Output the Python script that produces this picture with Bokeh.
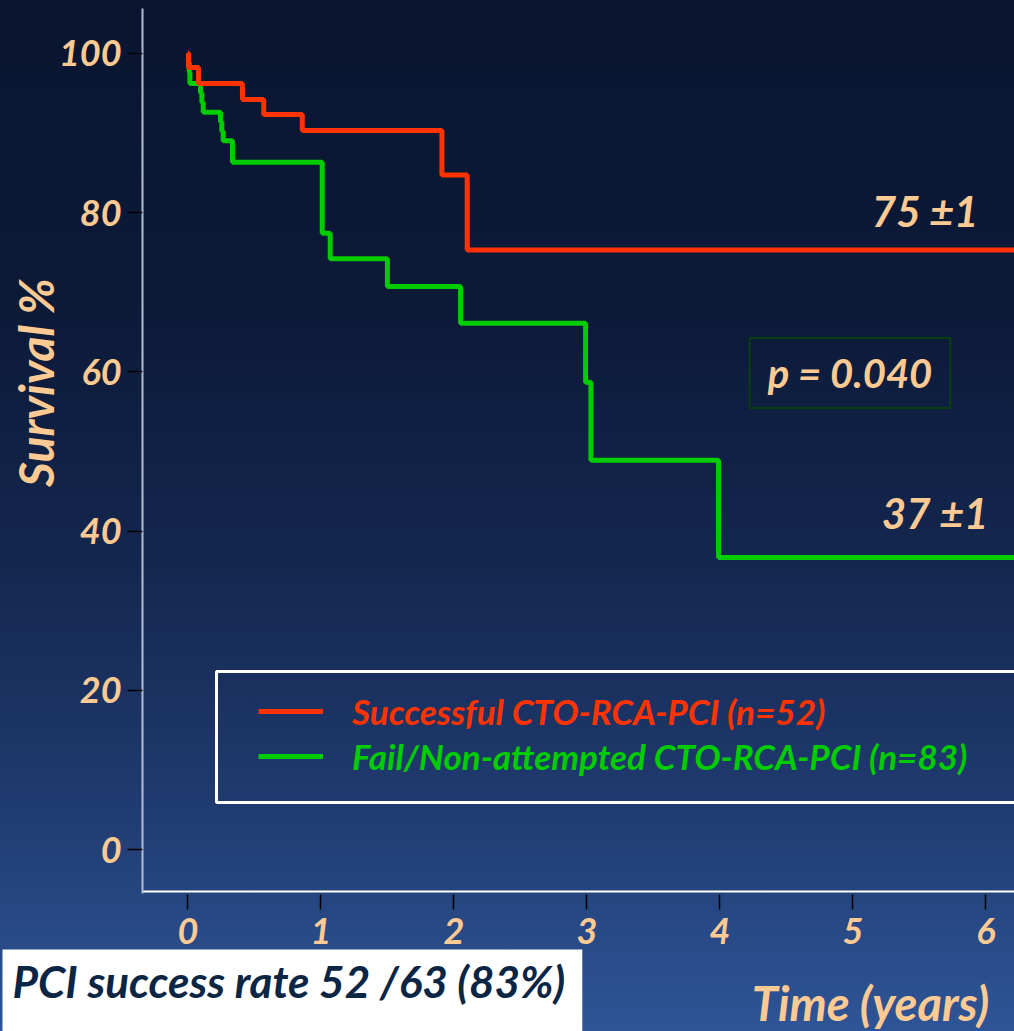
import math
from bokeh.plotting import figure
from bokeh.models import Range1d, FixedTicker, Legend, LegendItem, Label, BoxAnnotation
from bokeh.embed import file_html
from bokeh.resources import INLINE

# ---- data ----
succ_time = [0, 0.005, 0.08, 0.41, 0.57, 0.86, 1.91, 2.10, 6.5]
succ_surv = [100, 98.2, 96.2, 94.2, 92.3, 90.3, 84.7, 75.3, 75.3]

fail_time = [0, 0.005, 0.01, 0.015, 0.095, 0.105, 0.115, 0.245, 0.255, 0.265,
             0.335, 1.01, 1.07, 1.50, 2.05, 2.99, 3.03, 3.99, 6.5]
fail_surv = [100, 98.8, 97.6, 96.2, 95.0, 93.8, 92.6, 91.4, 90.2, 89.0,
             86.3, 77.4, 74.2, 70.7, 66.1, 58.7, 48.9, 36.7, 36.7]

x_ticks = [0, 1, 2, 3, 4, 5, 6]
y_ticks = [0, 20, 40, 60, 80, 100]

succ_label = "Successful CTO-RCA-PCI (n=52)"
fail_label = "Fail/Non-attempted CTO-RCA-PCI (n=83)"
succ_end_text = "75 \u00b11"
fail_end_text = "37 \u00b11"
p_text = "p = 0.040"
rate_text = "PCI success rate 52 /63 (83%)"
x_title = "Time (years)"
y_title = "Survival %"

PEACH = "#fcca92"
RED = "#ff3300"
GREEN = "#00cc00"
FONT = "Lato"

# the frame fills the whole canvas; axes sit at fixed data locations
p = figure(width=1014, height=1031, output_backend="svg", toolbar_location=None,
           x_range=Range1d(-1.409, 6.215), y_range=Range1d(-22.83, 106.62),
           min_border_left=0, min_border_right=0, min_border_top=0,
           min_border_bottom=0)
p.background_fill_alpha = 0
p.border_fill_alpha = 0
p.outline_line_color = None
p.grid.visible = False
p.styles = {"background": "linear-gradient(to bottom, #0a1630 0%, #0c1a38 30%, #14274f 55%, #203b70 78%, #2e5597 100%)"}

xa = p.xaxis[0]
xa.fixed_location = -5.25
xa.bounds = (-0.341, 6.3)
xa.ticker = FixedTicker(ticks=x_ticks)
xa.axis_line_color = "white"
xa.axis_line_width = 2
xa.major_tick_line_color = "black"
xa.major_tick_line_width = 1.5
xa.major_tick_in = -3
xa.major_tick_out = 18
xa.minor_tick_line_color = None
xa.major_label_text_font = FONT
xa.major_label_text_font_style = "bold italic"
xa.major_label_text_font_size = "36px"
xa.major_label_text_color = PEACH
xa.major_label_standoff = 9

ya = p.yaxis[0]
ya.fixed_location = -0.341
ya.bounds = (-5.5, 105.6)
ya.ticker = FixedTicker(ticks=y_ticks)
ya.axis_line_color = "#b4bed2"
ya.axis_line_width = 2
ya.major_tick_line_color = "black"
ya.major_tick_line_width = 1.5
ya.major_tick_in = 0
ya.major_tick_out = 15
ya.minor_tick_line_color = None
ya.major_label_text_font = FONT
ya.major_label_text_font_style = "bold italic"
ya.major_label_text_font_size = "36px"
ya.major_label_text_color = PEACH
ya.major_label_standoff = 6

r_fail = p.step(fail_time, fail_surv, mode="after", line_color=GREEN, line_width=5)
r_succ = p.step(succ_time, succ_surv, mode="after", line_color=RED, line_width=5)

# legend frame
p.add_layout(BoxAnnotation(left=0.215, right=7, top=22.37, bottom=5.93,
                           fill_alpha=0, line_color="white", line_alpha=1, line_width=3))

for label, rend, color, loc in [(succ_label, r_succ, RED, (258, 299)),
                                (fail_label, r_fail, GREEN, (258, 254))]:
    leg = Legend(items=[LegendItem(label=label, renderers=[rend])], location=loc,
                 border_line_color=None, background_fill_alpha=0, padding=0, margin=0,
                 glyph_width=65, glyph_height=40, label_height=40, label_standoff=29,
                 label_text_font=FONT, label_text_font_style="bold italic",
                 label_text_font_size="35px", label_text_color=color)
    p.add_layout(leg)

common = dict(text_font=FONT, text_font_style="bold italic")

p.add_layout(Label(x=5.944, y=80.25, text=succ_end_text, text_align="right",
                   text_baseline="middle", text_font_size="42px", text_color=PEACH, **common))
p.add_layout(Label(x=6.019, y=42.33, text=fail_end_text, text_align="right",
                   text_baseline="middle", text_font_size="42px", text_color=PEACH, **common))
p.add_layout(Label(x=4.978, y=59.85, text=p_text, text_align="center",
                   text_baseline="middle", text_font_size="40px", text_color=PEACH,
                   border_line_color="#0b3d12", border_line_width=2,
                   padding=dict(left=18, right=18, top=11, bottom=11), **common))

# axis titles
p.add_layout(Label(x=-1.146, y=58.66, text=y_title, angle=math.pi / 2,
                   text_align="center", text_baseline="middle", text_font_size="48px",
                   text_color=PEACH, **common))
p.add_layout(Label(x=5.132, y=-19.3, text=x_title, text_align="center",
                   text_baseline="middle", text_font_size="47px", text_color=PEACH, **common))

# bottom note box
p.add_layout(Label(x=-1.394, y=-18.05, text=rate_text, text_align="left",
                   text_baseline="middle", text_font_size="44px", text_color="#0b2545",
                   background_fill_color="white",
                   padding=dict(left=10, right=17, top=6, bottom=30), **common))

open("out.html", "w").write(file_html(p, INLINE))
